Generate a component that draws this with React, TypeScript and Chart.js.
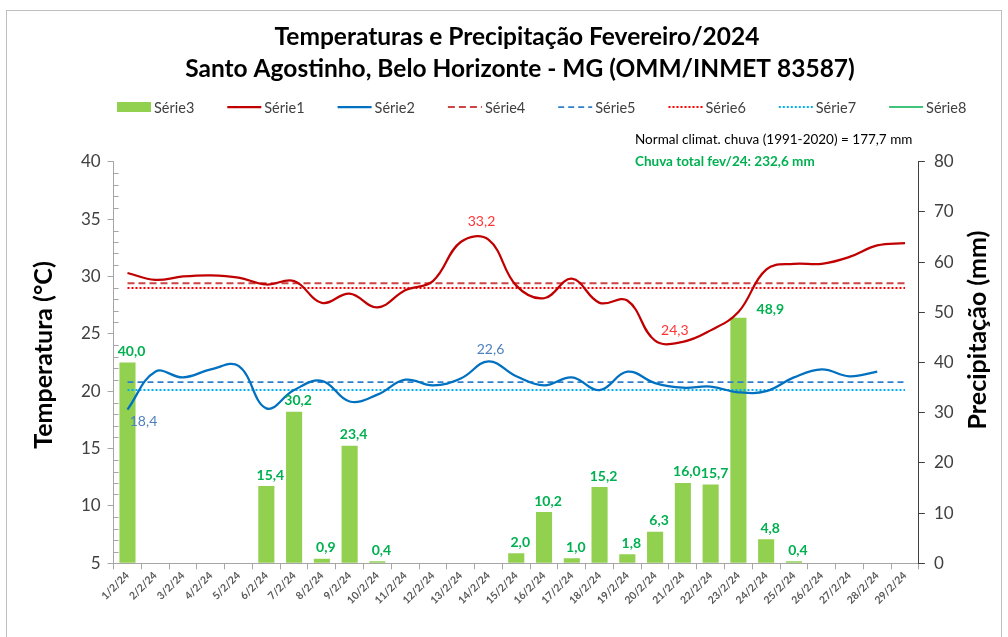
import React, { useEffect, useRef } from "react";
import { Chart, registerables } from "chart.js";

Chart.register(...registerables);

const DAYS = [
  "1/2/24", "2/2/24", "3/2/24", "4/2/24", "5/2/24", "6/2/24", "7/2/24", "8/2/24", "9/2/24", "10/2/24",
  "11/2/24", "12/2/24", "13/2/24", "14/2/24", "15/2/24", "16/2/24", "17/2/24", "18/2/24", "19/2/24", "20/2/24",
  "21/2/24", "22/2/24", "23/2/24", "24/2/24", "25/2/24", "26/2/24", "27/2/24", "28/2/24", "29/2/24",
];

// Série3 – precipitação diária (mm)
const RAIN = [40.0, 0, 0, 0, 0, 15.4, 30.2, 0.9, 23.4, 0.4, 0, 0, 0, 0, 2.0, 10.2, 1.0, 15.2, 1.8, 6.3, 16.0, 15.7, 48.9, 4.8, 0.4, 0, 0, 0, 0];
// Série1 – temperatura máxima (°C)
const TMAX = [30.3, 29.7, 30.0, 30.1, 29.9, 29.3, 29.6, 27.7, 28.5, 27.3, 28.8, 29.6, 33.0, 33.2, 29.2, 28.1, 29.8, 27.7, 27.9, 24.4, 24.3, 25.3, 26.9, 30.6, 31.1, 31.1, 31.7, 32.7, 32.9];
// Série2 – temperatura mínima (°C)
const TMIN = [18.4, 21.7, 21.2, 21.9, 22.2, 18.5, 20.1, 20.9, 19.1, 19.7, 21.0, 20.5, 21.1, 22.6, 21.3, 20.5, 21.2, 20.1, 21.7, 20.7, 20.3, 20.4, 19.9, 20.0, 21.2, 21.9, 21.3, 21.7, null];
// Normais climatológicas (linhas horizontais)
const SERIE4_TMAX_NORMAL = 29.4;
const SERIE5_TMIN_NORMAL = 20.8;
const SERIE6_TMAX_NORMAL = 29.0;
const SERIE7_TMIN_NORMAL = 20.1;

const TEMP_TICKS = { min: 5, max: 40, step: 5 };
const RAIN_TICKS = { min: 0, max: 80, step: 10 };

const TITLE_LINES = [
  "Temperaturas e Precipitação Fevereiro/2024",
  "Santo Agostinho, Belo Horizonte - MG (OMM/INMET 83587)",
];
const NOTE_NORMAL = "Normal climat. chuva (1991-2020) = 177,7 mm";
const NOTE_TOTAL = "Chuva total fev/24: 232,6 mm";
const Y_TITLE = "Temperatura (°C)";
const Y2_TITLE = "Precipitação (mm)";

const FONT = "Lato, 'Open Sans', sans-serif";

const fmt = (v: number) => v.toFixed(1).replace(".", ",");

const overlay = {
  id: "overlay",
  afterDraw(chart: any) {
    const ctx = chart.ctx as CanvasRenderingContext2D;
    const area = chart.chartArea;
    ctx.save();

    // Title
    ctx.fillStyle = "#000";
    ctx.textAlign = "center";
    ctx.textBaseline = "middle";
    ctx.font = `bold 24.5px ${FONT}`;
    ctx.fillText(TITLE_LINES[0], 517, 37);
    ctx.fillText(TITLE_LINES[1], 520, 69);

    // Legend
    const legendY = 107;
    const startX = 117;
    const stepX = 110.3;
    ctx.font = `14.5px ${FONT}`;
    ctx.textAlign = "left";
    chart.data.datasets.forEach((ds: any, i: number) => {
      const x = startX + i * stepX;
      if (ds.type === "bar") {
        ctx.fillStyle = ds.backgroundColor;
        ctx.fillRect(x, legendY - 5, 34, 10);
      } else {
        ctx.strokeStyle = ds.borderColor;
        ctx.lineWidth = ds.borderWidth;
        ctx.setLineDash(ds.borderDash || []);
        ctx.beginPath();
        ctx.moveTo(x, legendY);
        ctx.lineTo(x + 34, legendY);
        ctx.stroke();
        ctx.setLineDash([]);
      }
      ctx.fillStyle = "#404040";
      ctx.fillText(ds.label, x + 37, legendY + 1);
    });

    // Notes
    ctx.textAlign = "left";
    ctx.fillStyle = "#000";
    ctx.font = `13.5px ${FONT}`;
    ctx.fillText(NOTE_NORMAL, 635, 140);
    ctx.fillStyle = "#00b050";
    ctx.font = `bold 13.5px ${FONT}`;
    ctx.fillText(NOTE_TOTAL, 635, 162);

    // Axis titles
    ctx.fillStyle = "#000";
    ctx.font = `bold 25px ${FONT}`;
    ctx.textAlign = "center";
    ctx.save();
    ctx.translate(44, 355);
    ctx.rotate(-Math.PI / 2);
    ctx.fillText(Y_TITLE, 0, 0);
    ctx.restore();
    ctx.save();
    ctx.translate(978, 330);
    ctx.rotate(-Math.PI / 2);
    ctx.fillText(Y2_TITLE, 0, 0);
    ctx.restore();

    // Minor ticks on temperature axis
    const y = chart.scales.y;
    ctx.strokeStyle = "#a6a6a6";
    ctx.lineWidth = 1;
    ctx.beginPath();
    for (let v = TEMP_TICKS.min; v <= TEMP_TICKS.max; v += 1) {
      if (v % TEMP_TICKS.step === 0) continue;
      const py = Math.round(y.getPixelForValue(v)) + 0.5;
      ctx.moveTo(area.left, py);
      ctx.lineTo(area.left + 5, py);
    }
    ctx.stroke();

    // Data labels
    const barMeta = chart.getDatasetMeta(0);
    const maxRain = Math.max(...RAIN);
    ctx.font = `bold 14px ${FONT}`;
    ctx.fillStyle = "#00b050";
    ctx.textAlign = "center";
    ctx.textBaseline = "middle";
    barMeta.data.forEach((el: any, i: number) => {
      const v = RAIN[i];
      if (!v) return;
      if (v === maxRain) ctx.fillText(fmt(v), el.x + 32, el.y - 8);
      else ctx.fillText(fmt(v), el.x + 4, el.y - 11);
    });

    const maxMeta = chart.getDatasetMeta(1);
    const tmaxVals = TMAX as number[];
    const iMax = tmaxVals.indexOf(Math.max(...tmaxVals));
    const iMin = tmaxVals.indexOf(Math.min(...tmaxVals));
    ctx.font = `14px ${FONT}`;
    ctx.fillStyle = "#ff3333";
    let p = maxMeta.data[iMax];
    ctx.fillText(fmt(TMAX[iMax]), p.x - 7, p.y - 18);
    p = maxMeta.data[iMin];
    ctx.fillText(fmt(TMAX[iMin]), p.x - 8, p.y - 11);

    const minMeta = chart.getDatasetMeta(2);
    const tminVals = TMIN.filter((v) => v !== null) as number[];
    const jMax = TMIN.indexOf(Math.max(...tminVals));
    const jMin = TMIN.indexOf(Math.min(...tminVals));
    ctx.fillStyle = "#4f81bd";
    p = minMeta.data[jMax];
    ctx.fillText(fmt(TMIN[jMax] as number), p.x + 2, p.y - 12);
    p = minMeta.data[jMin];
    ctx.fillText(fmt(TMIN[jMin] as number), p.x + 16, p.y + 12);

    ctx.restore();
  },
};

export default function App() {
  const ref = useRef<HTMLCanvasElement | null>(null);

  useEffect(() => {
    if (!ref.current) return;
    const lineBase = {
      type: "line" as const,
      yAxisID: "y",
      pointRadius: 0,
      pointHoverRadius: 0,
      fill: false,
      order: 1,
    };
    const chart = new Chart(ref.current, {
      data: {
        labels: DAYS,
        datasets: [
          {
            type: "bar",
            label: "Série3",
            data: RAIN,
            yAxisID: "y2",
            backgroundColor: "#92d050",
            borderWidth: 0,
            categoryPercentage: 1,
            barPercentage: 0.58,
            order: 10,
          },
          { ...lineBase, label: "Série1", data: TMAX, borderColor: "#c00000", borderWidth: 2.25, tension: 0.4 },
          { ...lineBase, label: "Série2", data: TMIN, borderColor: "#0070c0", borderWidth: 2.25, tension: 0.4 },
          { ...lineBase, label: "Série4", data: DAYS.map(() => SERIE4_TMAX_NORMAL), borderColor: "#cc4444", borderWidth: 2, borderDash: [7, 4] },
          { ...lineBase, label: "Série5", data: DAYS.map(() => SERIE5_TMIN_NORMAL), borderColor: "#2f80cc", borderWidth: 1.75, borderDash: [6, 4] },
          { ...lineBase, label: "Série6", data: DAYS.map(() => SERIE6_TMAX_NORMAL), borderColor: "#ff0000", borderWidth: 2, borderDash: [2, 2] },
          { ...lineBase, label: "Série7", data: DAYS.map(() => SERIE7_TMIN_NORMAL), borderColor: "#00b0f0", borderWidth: 2, borderDash: [2, 2] },
          { ...lineBase, label: "Série8", data: DAYS.map(() => null), borderColor: "#00b050", borderWidth: 1.5 },
        ],
      } as any,
      options: {
        animation: false,
        responsive: false,
        devicePixelRatio: 1,
        events: [],
        layout: { padding: { top: 161.7, bottom: 13.7, left: 0, right: 0 } },
        plugins: {
          legend: { display: false },
          title: { display: false },
          tooltip: { enabled: false },
        },
        scales: {
          x: {
            type: "category",
            offset: true,
            grid: { offset: true, drawOnChartArea: false, drawTicks: true, tickLength: 6, color: "#a6a6a6" },
            border: { color: "#a6a6a6" },
            ticks: {
              autoSkip: false,
              maxRotation: 45,
              minRotation: 45,
              padding: 0,
              color: "#595959",
              font: { family: FONT, size: 10.5, weight: "bold" },
            },
            afterFit: (s: any) => {
              s.height = 60;
            },
          },
          y: {
            type: "linear",
            position: "left",
            min: TEMP_TICKS.min,
            max: TEMP_TICKS.max,
            ticks: { stepSize: TEMP_TICKS.step, color: "#404040", padding: 7, font: { family: FONT, size: 17 } },
            grid: { drawOnChartArea: false, drawTicks: true, tickLength: 6, color: "#a6a6a6" },
            border: { color: "#a6a6a6" },
            afterFit: (s: any) => {
              s.width = 113.6;
            },
          },
          y2: {
            type: "linear",
            position: "right",
            min: RAIN_TICKS.min,
            max: RAIN_TICKS.max,
            ticks: { stepSize: RAIN_TICKS.step, color: "#404040", padding: 9, font: { family: FONT, size: 17 } },
            grid: { drawOnChartArea: false, drawTicks: true, tickLength: 6, color: "#404040" },
            border: { color: "#404040" },
            afterFit: (s: any) => {
              s.width = 89.1;
            },
          },
        },
      } as any,
      plugins: [overlay],
    });
    return () => chart.destroy();
  }, []);

  return (
    <div style={{ position: "absolute", left: 0, top: 0, width: 1008, height: 637, overflow: "hidden", background: "#fff" }}>
      <canvas ref={ref} width={1008} height={637} style={{ position: "absolute", left: 0, top: 0, display: "block" }} />
      <div
        style={{
          position: "absolute",
          left: 6,
          top: 10,
          width: 994,
          height: 640,
          border: "1px solid #bfbfbf",
          pointerEvents: "none",
        }}
      />
    </div>
  );
}
